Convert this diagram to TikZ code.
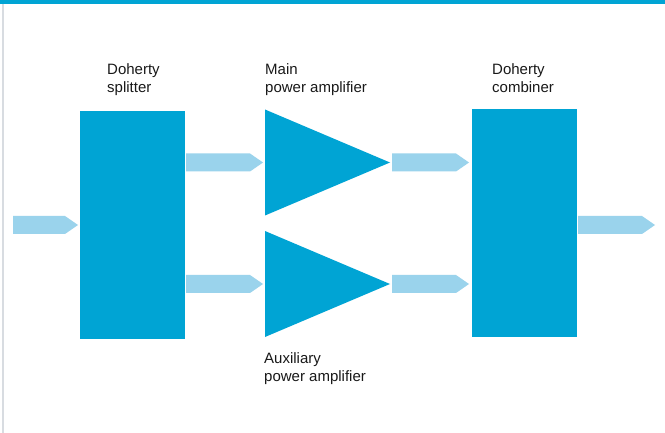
\documentclass[tikz,border=0pt]{standalone}
\usepackage{fontspec}
\setmainfont{Liberation Sans}
\usetikzlibrary{shapes.geometric,calc}
\definecolor{dblue}{HTML}{00A4D4}
\definecolor{lblue}{HTML}{9AD3EC}
\definecolor{edge}{HTML}{D8DCE1}
\tikzset{
  block/.style={rectangle, fill=dblue, inner sep=0pt, outer sep=0pt, minimum width=105pt},
  amp/.style={isosceles triangle, isosceles triangle stretches, shape border rotate=0, fill=dblue, inner sep=0pt, outer sep=0pt, minimum width=106pt, minimum height=125pt, anchor=lower side},
  lbl/.style={anchor=north west, inner sep=0pt, align=left, font=\fontsize{15}{18}\selectfont, text=black!90}
}
\newcommand\barrow[2]{\fill[lblue] let \p1=#1, \p2=#2 in (\x1,\y1+9pt) -- (\x2-13pt,\y1+9pt) -- (\x2,\y1) -- (\x2-13pt,\y1-9pt) -- (\x1,\y1-9pt) -- cycle;}
\begin{document}
\begin{tikzpicture}[x=1pt,y=-1pt]
\useasboundingbox (0,0) rectangle (665,433);
\fill[white] (0,0) rectangle (665,433);
\fill[dblue] (0,0) rectangle (665,4.5);
\fill[edge] (2,4.5) rectangle (3.5,433);
% blocks
\node[block, minimum height=228pt] (split) at (132.5,225) {};
\node[block, minimum height=228pt] (comb) at (524.5,223) {};
\node[amp] (main) at (265,162.5) {};
\node[amp] (aux) at (265,284) {};
% free ends
\coordinate (in) at (13,225);
\coordinate (out) at (655,225);
% arrows
\barrow{(in)}{([xshift=-2pt]split.west)}
\barrow{([xshift=1pt]split.east |- main.lower side)}{([xshift=-2pt]main.lower side)}
\barrow{([xshift=1pt]split.east |- aux.lower side)}{([xshift=-2pt]aux.lower side)}
\barrow{([xshift=2pt]main.apex)}{([xshift=-3pt]comb.west |- main.apex)}
\barrow{([xshift=2pt]aux.apex)}{([xshift=-3pt]comb.west |- aux.apex)}
\barrow{([xshift=1pt]comb.east |- in)}{(out)}
% labels
\node[lbl] (lsplit) at (107,63) {Doherty\\splitter};
\node[lbl] (lmain) at (265,63) {Main\\power amplifier};
\node[lbl] (lcomb) at (492,63) {Doherty\\combiner};
\node[lbl] (laux) at (264,352) {Auxiliary\\power amplifier};
\end{tikzpicture}
\end{document}
